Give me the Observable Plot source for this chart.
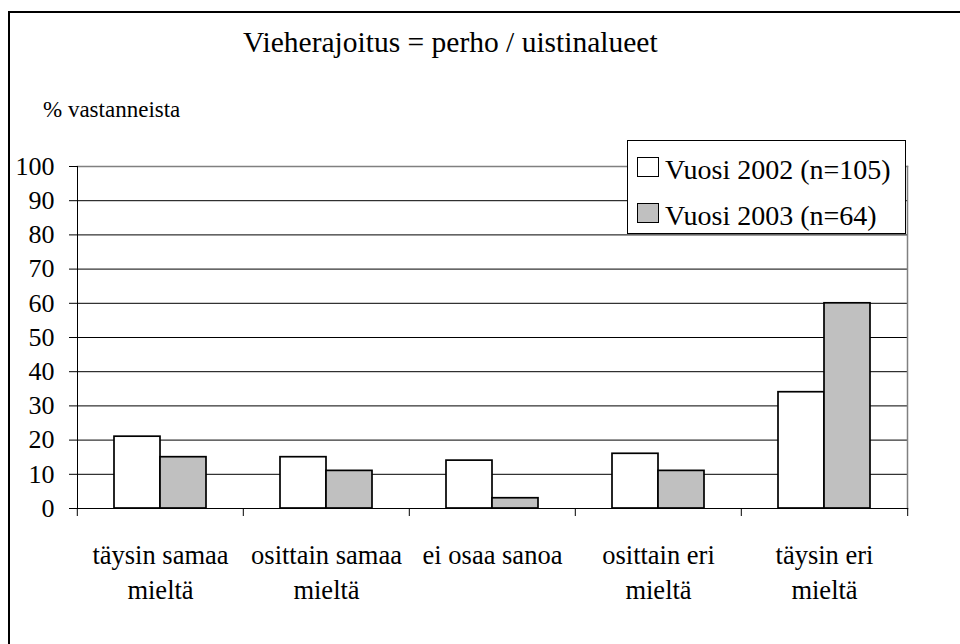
<!DOCTYPE html>
<html>
<head>
<meta charset="utf-8">
<script src="https://cdn.jsdelivr.net/npm/d3@7"></script>
<script src="https://cdn.jsdelivr.net/npm/@observablehq/plot@0.6"></script>
<style>
  html, body { margin: 0; padding: 0; background: #fff; }
  #wrap { position: relative; width: 960px; height: 644px; overflow: hidden; font-family: "Liberation Serif", "Times New Roman", serif; color: #000; }
  #wrap svg { position: absolute; left: 0; top: 0; font-family: "Liberation Serif", "Times New Roman", serif !important; }
  #wrap svg text, #wrap svg g { font-family: "Liberation Serif", "Times New Roman", serif !important; }
  #border { position: absolute; left: 8px; top: 11px; width: 980px; height: 700px; border-top: 2px solid #000; border-left: 2px solid #000; pointer-events: none; }
  #legend { position: absolute; left: 627px; top: 140px; width: 279px; height: 94px; box-sizing: border-box; border: 1px solid #000; background: #fff; }
  #legend .sw { position: absolute; left: 9px; width: 22px; height: 20px; box-sizing: border-box; border: 1.5px solid #000; }
  #legend .lab { position: absolute; left: 37px; font-size: 28px; line-height: 28px; white-space: nowrap; }
</style>
</head>
<body>
<div id="wrap">
  <div id="chart"></div>
  <div id="border"></div>
  <div id="legend"></div>
</div>
<script>
const title = "Vieherajoitus = perho / uistinalueet";
const yLabel = "% vastanneista";
const categories = ["täysin samaa\nmieltä", "osittain samaa\nmieltä", "ei osaa sanoa", "osittain eri\nmieltä", "täysin eri\nmieltä"];
const series = ["Vuosi 2002 (n=105)", "Vuosi 2003 (n=64)"];
const seriesColors = ["#ffffff", "#c0c0c0"];
const values2002 = [21, 15, 14, 16, 34];
const values2003 = [15, 11, 3, 11, 60];
const yTicks = [0, 10, 20, 30, 40, 50, 60, 70, 80, 90, 100];

const data = categories.flatMap((c, i) => [
  {cat: c, s: series[0], v: values2002[i]},
  {cat: c, s: series[1], v: values2003[i]}
]);

const W = 960, H = 644, mL = 76, mR = 52, mT = 166, mB = 136;
const bw = (W - mL - mR) / categories.length;
const serif = "Liberation Serif, Times New Roman, serif";

const chart = Plot.plot({
  width: W, height: H,
  marginLeft: mL, marginRight: mR, marginTop: mT, marginBottom: mB,
  style: {fontFamily: serif, fontSize: "26px", color: "#000", background: "transparent", overflow: "visible"},
  fx: {domain: categories, paddingInner: 0, paddingOuter: 0, label: null},
  x: {domain: series, paddingInner: 0, paddingOuter: 0.77, axis: null},
  y: {domain: [0, 100], label: null},
  color: {domain: series, range: seriesColors},
  marks: [
    Plot.gridY(yTicks.slice(1, -1), {stroke: "#000", strokeOpacity: 1, strokeWidth: 1}),
    Plot.frame({anchor: "top", stroke: "#808080", strokeWidth: 1.5, facet: "super"}),
    Plot.frame({anchor: "right", stroke: "#808080", strokeWidth: 1.5, facet: "super"}),
    Plot.barY(data, {fx: "cat", x: "s", y: "v", fill: "s", stroke: "#000", strokeWidth: 1.7}),
    Plot.frame({anchor: "left", stroke: "#000", strokeWidth: 1, facet: "super"}),
    Plot.frame({anchor: "bottom", stroke: "#000", strokeWidth: 1.2, facet: "super"}),
    Plot.axisY(yTicks, {tickSize: 8, tickPadding: 15, fontSize: 26, fontFamily: serif, label: null, stroke: "#000", fill: "#000"}),
    Plot.axisFx({anchor: "bottom", tickSize: 0, tickPadding: 31, lineHeight: 1.32, fontSize: 26.5, fontFamily: serif, label: null, fill: "#000"}),
    Plot.axisFx({anchor: "bottom", tickSize: 8, tickFormat: () => "", dx: -bw / 2, label: null, stroke: "#000"}),
    Plot.axisFx({anchor: "bottom", ticks: [categories[categories.length - 1]], tickSize: 8, tickFormat: () => "", dx: bw / 2, label: null, stroke: "#000"}),
    Plot.text([title], {facet: "super", frameAnchor: "top-left", dx: 241.5 - mL, dy: 51 - mT, lineAnchor: "bottom", textAnchor: "start", fontSize: 29.5, fontFamily: serif, fill: "#000"}),
    Plot.text([yLabel], {facet: "super", frameAnchor: "top-left", dx: 41.5 - mL, dy: 116 - mT, lineAnchor: "bottom", textAnchor: "start", fontSize: 23, fontFamily: serif, fill: "#000"})
  ]
});
document.getElementById("chart").appendChild(chart);

const legend = document.getElementById("legend");
series.forEach((s, i) => {
  const sw = document.createElement("div");
  sw.className = "sw";
  sw.style.top = (16 + i * 46) + "px";
  sw.style.background = seriesColors[i];
  legend.appendChild(sw);
  const lab = document.createElement("div");
  lab.className = "lab";
  lab.style.top = (14.5 + i * 46) + "px";
  lab.textContent = s;
  legend.appendChild(lab);
});
</script>
</body>
</html>
